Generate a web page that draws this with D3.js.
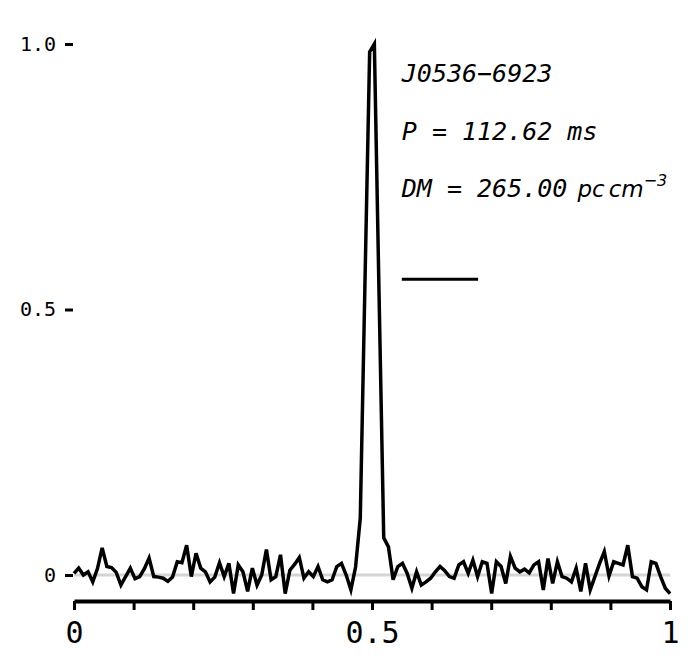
<!DOCTYPE html>
<html>

<head>
    <script src="https://d3js.org/d3.v7.min.js"></script>
    <style>
        body {
            margin: 0;
            background: #fff;
        }

        .profile {
            fill: none;
            stroke: #000;
            stroke-width: 3.5px;
            stroke-linejoin: miter;
        }

        .zero {
            stroke: #d4d4d4;
            stroke-width: 3px;
        }

        .label {
            font-family: "DejaVu Sans Mono", monospace;
            font-style: oblique;
            font-size: 25px;
        }

        .math {
            font-family: "DejaVu Sans", sans-serif;
            font-style: oblique;
            font-size: 23px;
        }

        .sup {
            font-family: "DejaVu Sans", sans-serif;
            font-style: oblique;
            font-size: 16px;
        }
    </style>
</head>

<body>
    <script>
        // pulse profile, 128 phase bins, normalised to peak
        var profile = [
            0.003, 0.013, 0.000, 0.006, -0.013, 0.012, 0.051, 0.016,
            0.014, 0.005, -0.019, -0.003, 0.013, -0.007, -0.003, 0.012,
            0.032, -0.003, -0.004, -0.006, -0.012, -0.004, 0.025, 0.023,
            0.056, -0.003, 0.041, 0.013, 0.006, -0.013, -0.004, 0.023,
            -0.003, 0.022, -0.035, 0.019, 0.006, -0.031, 0.013, -0.019,
            0.000, 0.048, -0.009, -0.003, 0.038, -0.035, 0.009, 0.020,
            0.033, -0.006, 0.006, -0.003, 0.016, -0.009, -0.013, -0.009,
            0.016, 0.022, 0.000, -0.028, 0.015, 0.107, 0.550, 0.985,
            1.000, 0.530, 0.070, 0.053, -0.009, 0.016, 0.022, 0.003,
            -0.025, 0.006, -0.019, -0.013, -0.006, 0.006, 0.016, 0.008,
            -0.003, -0.006, 0.019, 0.025, 0.003, 0.028, -0.003, 0.025,
            0.022, -0.035, 0.025, 0.016, -0.016, 0.035, 0.013, 0.006,
            0.011, 0.004, 0.019, 0.025, -0.028, 0.031, -0.016, 0.025,
            -0.003, -0.006, -0.013, 0.013, -0.031, 0.022, -0.028, -0.003,
            0.022, 0.044, -0.002, 0.025, 0.022, 0.019, 0.056, -0.003,
            -0.006, -0.022, -0.028, 0.025, 0.022, -0.003, -0.025, -0.035
        ];
        var phase = profile.map(function (d, i) { return i / (profile.length - 1); });

        var xTicks = [0, 0.1, 0.2, 0.3, 0.4, 0.5, 0.6, 0.7, 0.8, 0.9, 1];
        var xTickLabels = { 0: "0", 0.5: "0.5", 1: "1" };
        var yTicks = [0, 0.5, 1];
        var yTickLabels = ["0", "0.5", "1.0"];

        var psrName = "J0536\u22126923";
        var period = "112.62";
        var dm = "265.00";
        var barPhase = [0.55, 0.678];
        var barLevel = 0.557;
        var textPhase = 0.55;

        var width = 698, height = 668;

        var svg = d3.select("body").append("svg")
            .attr("width", width)
            .attr("height", height);

        var x = d3.scaleLinear().domain([0, 1]).range([74, 670]);
        var y = d3.scaleLinear().domain([0, 1]).range([575, 44]);

        // zero baseline
        svg.append("line")
            .attr("class", "zero")
            .attr("x1", x(0)).attr("x2", x(1))
            .attr("y1", y(0)).attr("y2", y(0));

        var line = d3.line()
            .x(function (d, i) { return x(phase[i]); })
            .y(function (d) { return y(d); });

        svg.append("path")
            .datum(profile)
            .attr("class", "profile")
            .attr("d", line);

        // x axis
        var xAxis = svg.append("g")
            .attr("transform", "translate(0,601)")
            .call(d3.axisBottom(x)
                .tickValues(xTicks)
                .tickFormat(function (d) { return xTickLabels[d] || ""; })
                .tickSize(9)
                .tickSizeOuter(0)
                .tickPadding(12));
        xAxis.select(".domain").attr("stroke-width", 4);
        xAxis.selectAll(".tick line").attr("stroke-width", 3);
        xAxis.selectAll(".tick text")
            .attr("font-family", "DejaVu Sans Mono")
            .attr("font-size", 30)
            .attr("fill", "#000");

        // y axis
        var yAxis = svg.append("g")
            .attr("transform", "translate(73,0)")
            .call(d3.axisLeft(y)
                .tickValues(yTicks)
                .tickFormat(function (d, i) { return yTickLabels[i]; })
                .tickSize(8)
                .tickPadding(9));
        yAxis.select(".domain").remove();
        yAxis.selectAll(".tick line").attr("stroke-width", 3);
        yAxis.selectAll(".tick text")
            .attr("font-family", "DejaVu Sans Mono")
            .attr("font-size", 20)
            .attr("fill", "#000");

        // labels
        var tx = x(textPhase);
        svg.append("text").attr("class", "label")
            .attr("x", tx).attr("y", 82)
            .text(psrName);

        svg.append("text").attr("class", "label")
            .attr("x", tx).attr("y", 140)
            .text("P = " + period + " ms");

        var dmText = svg.append("text").attr("class", "label")
            .attr("x", tx).attr("y", 197);
        dmText.append("tspan").text("DM = " + dm);
        dmText.append("tspan").attr("class", "math").attr("dx", 10).text("pc");
        dmText.append("tspan").attr("class", "math").attr("dx", 4).text("cm");
        dmText.append("tspan").attr("class", "sup").attr("dy", -11).text("\u22123");

        // scale bar
        svg.append("line")
            .attr("x1", x(barPhase[0])).attr("x2", x(barPhase[1]))
            .attr("y1", y(barLevel)).attr("y2", y(barLevel))
            .attr("stroke", "#000")
            .attr("stroke-width", 3);
    </script>
</body>

</html>
